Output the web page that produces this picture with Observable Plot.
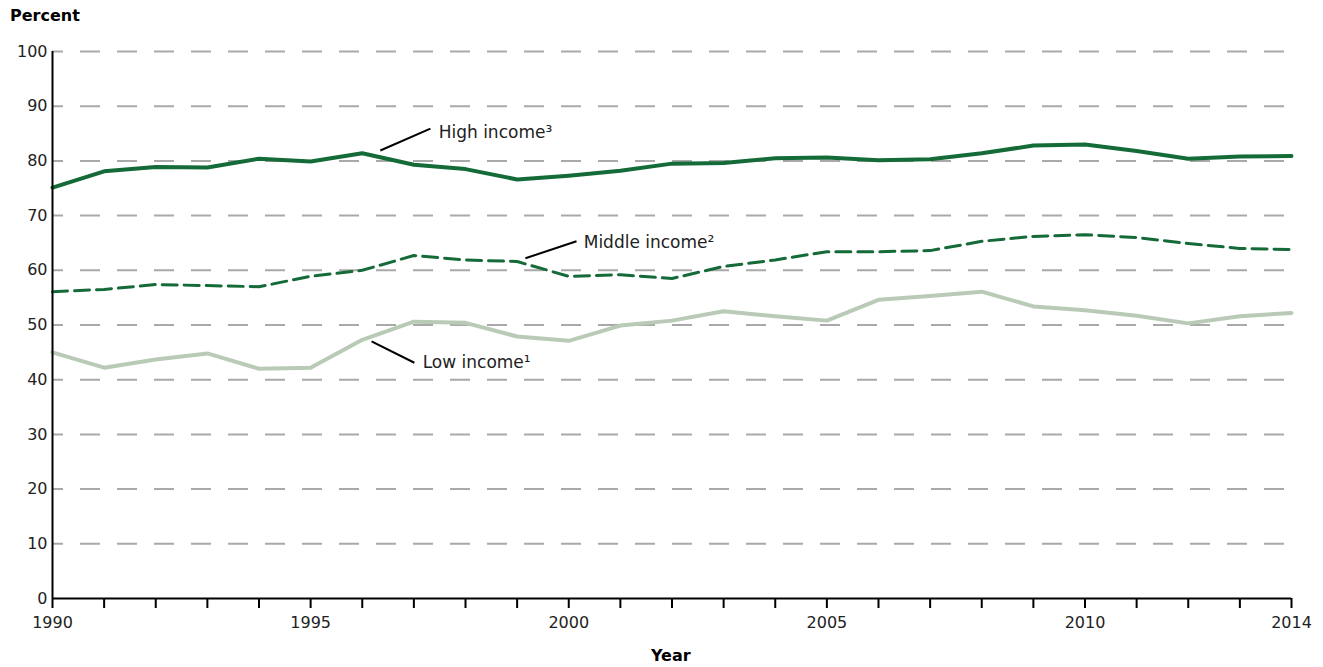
<!DOCTYPE html>
<html>
<head>
<meta charset="utf-8">
<script src="https://cdn.jsdelivr.net/npm/d3@7"></script>
<script src="https://cdn.jsdelivr.net/npm/@observablehq/plot@0.6"></script>
<style>
  html, body { margin: 0; padding: 0; background: #fff; }
  #wrap { position: relative; width: 1323px; height: 667px; font-family: "DejaVu Sans", sans-serif; }
  .ttl { position: absolute; font-weight: bold; font-size: 16px; color: #000; }
</style>
</head>
<body>
<div id="wrap">
  <div class="ttl" style="left:10px; top:6px;">Percent</div>
  <div class="ttl" style="left:651px; top:646px;">Year</div>
</div>
<script>
const years = d3.range(1990, 2015);
const highIncome = [75.1, 78.1, 78.9, 78.8, 80.4, 79.9, 81.4, 79.3, 78.5, 76.6, 77.3, 78.2, 79.5, 79.6, 80.5, 80.6, 80.1, 80.3, 81.4, 82.8, 83.0, 81.8, 80.4, 80.8, 80.9];
const middleIncome = [56.1, 56.5, 57.4, 57.2, 57.0, 58.9, 60.0, 62.7, 61.9, 61.6, 58.9, 59.2, 58.5, 60.7, 61.9, 63.4, 63.4, 63.6, 65.3, 66.2, 66.5, 66.0, 64.9, 64.0, 63.8];
const lowIncome = [45.0, 42.2, 43.7, 44.8, 42.0, 42.2, 47.3, 50.6, 50.4, 47.9, 47.1, 49.9, 50.8, 52.5, 51.6, 50.8, 54.6, 55.3, 56.1, 53.4, 52.7, 51.7, 50.3, 51.6, 52.2];
const yTicks = d3.range(0, 101, 10);
const xLabelYears = [1990, 1995, 2000, 2005, 2010, 2014];

// annotation labels and leader lines (data coordinates)
const labelText = ["High income\u00B3", "Middle income\u00B2", "Low income\u00B9"];
const labelX = [1997.48, 2000.29, 1997.17];
const labelY = [85.2, 65.1, 43.1];
const leaderX1 = [1996.35, 1999.16, 1996.18];
const leaderY1 = [81.9, 62.2, 47.0];
const leaderX2 = [1997.32, 2000.15, 1997.01];
const leaderY2 = [85.9, 65.3, 43.1];

const toRows = (vals) => years.map((yr, i) => ({year: yr, value: vals[i]}));
const high = toRows(highIncome), middle = toRows(middleIncome), low = toRows(lowIncome);
const labels = labelText.map((t, i) => ({t, x: labelX[i], y: labelY[i]}));
const leaders = labelText.map((t, i) => ({x1: leaderX1[i], y1: leaderY1[i], x2: leaderX2[i], y2: leaderY2[i]}));

const chart = Plot.plot({
  width: 1323,
  height: 667,
  marginLeft: 52,
  marginRight: 32,
  marginTop: 51,
  marginBottom: 69,
  style: {fontFamily: "DejaVu Sans, sans-serif", fontSize: "16px", color: "#000", background: "#fff"},
  x: {domain: [1990, 2014]},
  y: {domain: [0, 100]},
  marks: [
    Plot.gridY(yTicks.filter(d => d > 0), {stroke: "#a9a9a9", strokeOpacity: 1, strokeWidth: 2, strokeDasharray: "20,17", strokeDashoffset: 9}),
    Plot.axisY(yTicks, {tickSize: 0, tickPadding: 5, label: null, fill: "#222", fontSize: 16}),
    Plot.axisX(years, {tickSize: 10, tickPadding: 8, label: null, stroke: "#000", strokeWidth: 2, fill: "#222", fontSize: 16,
      tickFormat: d => xLabelYears.includes(d) ? String(d) : ""}),
    Plot.line(low, {x: "year", y: "value", stroke: "#b9cbb7", strokeWidth: 4}),
    Plot.line(middle, {x: "year", y: "value", stroke: "#146b38", strokeWidth: 3, strokeDasharray: "15,7"}),
    Plot.line(high, {x: "year", y: "value", stroke: "#146b38", strokeWidth: 4}),
    Plot.ruleX([1990], {stroke: "#000", strokeWidth: 2}),
    Plot.ruleY([0], {stroke: "#000", strokeWidth: 2}),
    Plot.link(leaders, {x1: "x1", y1: "y1", x2: "x2", y2: "y2", stroke: "#000", strokeWidth: 2}),
    Plot.text(labels, {x: "x", y: "y", text: "t", textAnchor: "start", fontSize: 17, fill: "#222"})
  ]
});
chart.querySelectorAll('g[aria-label*="tick label"] text').forEach(t => { t.style.fontSize = "16px"; });
chart.style.position = "absolute";
chart.style.left = "0px";
chart.style.top = "0px";
document.getElementById("wrap").prepend(chart);
</script>
</body>
</html>
